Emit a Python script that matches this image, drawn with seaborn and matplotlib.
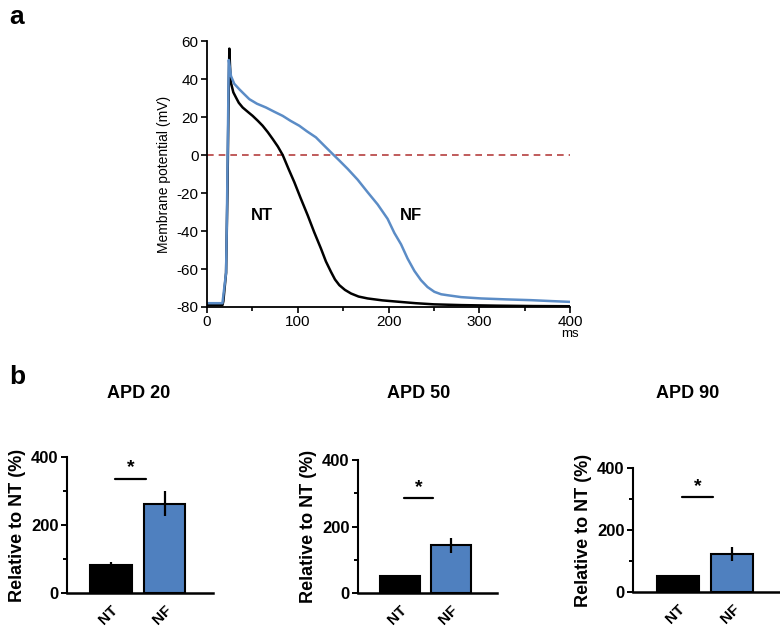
import numpy as np
import pandas as pd
import seaborn as sns
import matplotlib.pyplot as plt
from matplotlib.ticker import MultipleLocator

# ---- data: action potential traces (ms, mV) ----
nt_time = [0, 17, 18, 21, 22.5, 23.5, 24.6, 25.5, 26.4, 29, 32, 35, 39.3, 45, 50.3, 56, 61.3, 67, 72.4,
           78, 83.4, 90, 96.2, 103, 111, 118, 125.6, 131, 136.6, 141, 145.8, 152, 158.7, 167, 177,
           193, 210, 230, 250, 280, 320, 360, 400]
nt_volt = [-79, -79, -77, -62, -20, 20, 56, 45, 38, 33, 30.2, 27.5, 25, 22.7, 20.6, 18, 15.4, 12, 8.4,
           4.5, 0, -7.5, -14.3, -22.5, -31.8, -40.5, -49.3, -56, -61.5, -65.5, -68.5, -71, -72.9, -74.5, -75.5,
           -76.5, -77.2, -78, -78.6, -79, -79.3, -79.5, -79.6]
nf_time = [0, 17, 18, 21, 22, 23, 24, 25.5, 26.4, 30, 35.6, 40, 46.6, 55, 65, 74, 83.4, 92, 101.7, 110,
           120, 129, 138.5, 146, 155, 166, 177, 188, 199, 206.4, 213.8, 221, 228.5, 235.8, 243, 250.5,
           258, 265, 280, 302, 330, 357, 380, 400]
nf_volt = [-78, -78, -74, -62, -30, 10, 50, 45, 41.6, 37.5, 34.6, 32.5, 29.4, 27, 25, 22.8, 20.6, 18, 15.4, 12.5,
           9.3, 5, 0.5, -3, -7.3, -13, -19.6, -26, -33.6, -41, -47, -54.5, -61, -65.9, -69.5, -72,
           -73.3, -73.8, -74.8, -75.5, -76, -76.4, -76.9, -77.3]

# ---- data: APD bar charts (% relative to NT) ----
groups = ["NT", "NF"]
apd_titles = ["APD 20", "APD 50", "APD 90"]
apd20_mean = [81, 263]
apd20_err = [9, 36]
apd50_mean = [50, 143]
apd50_err = [3, 23]
apd90_mean = [51, 122]
apd90_err = [5, 23]
sig_heights = [335, 285, 306]

black = "#000000"
blue_line = "#5b8cc6"
blue_bar = "#4f80bf"

sns.set_style("ticks")
plt.rcParams['font.family'] = ['Liberation Sans', 'DejaVu Sans']
plt.rcParams['axes.unicode_minus'] = False
for key in ['text.color', 'axes.labelcolor', 'xtick.color', 'ytick.color', 'axes.edgecolor']:
    plt.rcParams[key] = 'black'

fig = plt.figure(figsize=(7.8, 6.3), dpi=100)

##########################################################################################
# panel a
ax = fig.add_axes([0.2654, 0.5127, 0.4654, 0.4222])
trace_df = pd.concat([
    pd.DataFrame({'t': nt_time, 'V': nt_volt, 'group': 'NT'}),
    pd.DataFrame({'t': nf_time, 'V': nf_volt, 'group': 'NF'}),
])
sns.lineplot(data=trace_df, x='t', y='V', hue='group', palette={'NT': black, 'NF': blue_line},
             estimator=None, sort=False, linewidth=1.8, legend=False, ax=ax)
for ln in ax.lines:
    ln.set_solid_joinstyle('round')
ax.axhline(0, color="#b5403f", lw=1.2, ls=(0, (4, 3)), zorder=0)
ax.set_xlim(0, 400)
ax.set_ylim(-80, 60)
ax.xaxis.set_major_locator(MultipleLocator(100))
ax.xaxis.set_minor_locator(MultipleLocator(50))
ax.yaxis.set_major_locator(MultipleLocator(20))
ax.tick_params(axis='both', which='major', labelsize=11, width=1.2, length=4, pad=2)
ax.tick_params(axis='x', which='minor', width=1.2, length=3)
for s in ['left', 'bottom']:
    ax.spines[s].set_linewidth(1.3)
sns.despine(ax=ax)
ax.set_xlabel("")
ax.set_ylabel("Membrane potential (mV)", fontsize=10, labelpad=4)
ax.text(60, -32, "NT", fontsize=12, fontweight='bold', ha='center', va='center')
ax.text(225, -32, "NF", fontsize=12, fontweight='bold', ha='center', va='center')
ax.annotate("ms", xy=(1, 0), xycoords='axes fraction', xytext=(0, -15),
            textcoords='offset points', fontsize=9.5, ha='center', va='top')

fig.text(0.012, 0.973, "a", fontsize=19, fontweight='bold', va='center')
fig.text(0.012, 0.402, "b", fontsize=19, fontweight='bold', va='center')

##########################################################################################
# panel b
rects = [[0.0859, 0.0587, 0.187, 0.216],
         [0.459, 0.0587, 0.178, 0.211],
         [0.8115, 0.0603, 0.19, 0.197]]
title_x = [0.178, 0.537, 0.882]
means = [apd20_mean, apd50_mean, apd90_mean]
errs = [apd20_err, apd50_err, apd90_err]

for i in range(3):
    bx = fig.add_axes(rects[i])
    bar_df = pd.DataFrame({'group': groups, 'value': means[i]})
    sns.barplot(data=bar_df, x='group', y='value', hue='group', palette=[black, blue_bar],
                saturation=1, width=0.77, edgecolor='black', linewidth=1.5, legend=False, ax=bx)
    bx.errorbar(range(len(groups)), means[i], yerr=errs[i], fmt='none', ecolor='black',
                elinewidth=1.6, capsize=0)
    bx.plot([0.08, 0.65], [sig_heights[i]] * 2, color='black', lw=1.6)
    bx.text(0.37, sig_heights[i] + 8, "*", fontsize=14, fontweight='bold', ha='center', va='bottom')
    bx.set_ylim(0, 400)
    bx.set_xlim(-0.82, 1.9)
    bx.yaxis.set_major_locator(MultipleLocator(200))
    bx.yaxis.set_minor_locator(MultipleLocator(100))
    bx.tick_params(axis='y', which='major', labelsize=12, width=1.4, length=4, pad=2)
    bx.tick_params(axis='y', which='minor', width=1.4, length=3)
    bx.tick_params(axis='x', length=0, pad=7)
    for lab in bx.get_yticklabels():
        lab.set_fontweight('bold')
    bx.set_xticks(range(len(groups)))
    bx.set_xticklabels(groups, rotation=45, ha='right', rotation_mode='anchor',
                       fontsize=11, fontweight='bold')
    bx.spines['left'].set_linewidth(1.5)
    bx.spines['bottom'].set_linewidth(1.8)
    sns.despine(ax=bx)
    bx.set_xlabel("")
    bx.set_ylabel("Relative to NT (%)", fontsize=13, fontweight='bold', labelpad=4)
    fig.text(title_x[i], 0.376, apd_titles[i], fontsize=13, fontweight='bold',
             ha='center', va='center')

plt.savefig("out.png", dpi=100)
